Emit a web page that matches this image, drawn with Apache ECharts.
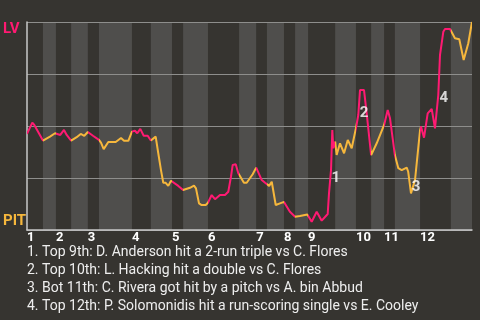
<!DOCTYPE html>
<html><head><meta charset="utf-8">
<script src="https://cdn.jsdelivr.net/npm/echarts@6/dist/echarts.min.js"></script>
<style>html,body{margin:0;padding:0;background:#363430}#c{width:480px;height:320px}</style>
</head><body><div id="c"></div>
<script>
const PINK = '#ff1a72', ORANGE = '#f6b73c';
const halfInningStarts = [0,4.3,7.8,11.9,16.4,19.4,28.3,33.4,39.1,42.1,48.8,57.2,61.8,64.7,69.3,72.3,75.8,83.1,88.7,92.8,96.3,99.2,106,114.3,120];
const inningLabels = ['1','2','3','4','5','6','7','8','9','10','11','12'];
const playIndex = [0,1.43,1.97,4.3,6.2,7.55,7.8,8.98,9.98,10.7,11.9,13.4,14.48,15.45,16.4,17.88,19.4,19.95,20.68,21.92,23.92,25.35,26.16,27.32,28.3,29.1,29.74,30.55,31.47,32.55,33.4,34.7,35.4,36.13,36.75,37.4,38.1,38.83,39.1,40.8,42.1,43.95,45.03,45.57,46.38,47.1,48.2,48.8,49.8,50.7,52.04,53.39,54.28,55.0,55.47,56.28,56.98,57.2,58.5,59.24,60.86,61.8,63.3,64.2,64.7,65.3,66.0,67.07,68.22,69.3,70.9,72.3,73.6,75.6,75.8,76.77,78.12,79.47,81.09,81.44,81.98,82.33,82.6,83.1,83.5,84.4,85.5,86.5,87.56,88.7,89.34,89.8,90.88,91.6,92.8,94.3,96.3,97.27,97.89,99.2,100.13,101.04,102.4,102.8,103.55,103.9,104.63,106,106.25,107.06,108.05,109.13,110.02,110.48,110.91,111.37,112.26,112.72,114.07,114.3,115.4,116.57,117.75,119.0,120];
const lvWinProb = [0.462,0.516,0.505,0.430,0.449,0.465,0.466,0.457,0.481,0.457,0.430,0.446,0.462,0.453,0.471,0.452,0.433,0.420,0.389,0.423,0.423,0.442,0.429,0.429,0.473,0.477,0.465,0.486,0.453,0.453,0.430,0.449,0.369,0.288,0.227,0.227,0.212,0.237,0.237,0.212,0.192,0.203,0.213,0.200,0.128,0.120,0.120,0.131,0.168,0.148,0.168,0.168,0.184,0.256,0.313,0.316,0.273,0.269,0.227,0.227,0.268,0.300,0.240,0.227,0.218,0.212,0.232,0.120,0.128,0.135,0.088,0.064,0.067,0.075,0.075,0.040,0.088,0.045,0.077,0.176,0.288,0.481,0.393,0.425,0.361,0.417,0.369,0.433,0.393,0.489,0.553,0.673,0.673,0.561,0.36,0.417,0.505,0.577,0.537,0.36,0.297,0.288,0.300,0.280,0.176,0.168,0.240,0.481,0.497,0.444,0.561,0.582,0.489,0.481,0.649,0.841,0.953,0.966,0.966,0.964,0.922,0.917,0.817,0.898,1.0];
const eventPlay = [83.3,90.9,104.9,112.4];
const eventProb = [0.25,0.56,0.204,0.632];
const eventLabels = ['1','2','3','4'];
const eventNotes = [
  '1. Top 9th: D. Anderson hit a 2-run triple vs C. Flores',
  '2. Top 10th: L. Hacking hit a double vs C. Flores',
  '3. Bot 11th: C. Rivera got hit by a pitch vs A. bin Abbud',
  '4. Top 12th: P. Solomonidis hit a run-scoring single vs E. Cooley'
];

const inningStarts = halfInningStarts.filter((v,i)=>i%2===0 && i<halfInningStarts.length-1);
const bands = [];
const pieces = [];
for (let i=0;i<halfInningStarts.length-1;i++){
  if (i%2===1) bands.push([{xAxis:halfInningStarts[i]},{xAxis:halfInningStarts[i+1]}]);
  const p = {gte:halfInningStarts[i], color: i%2===0 ? PINK : ORANGE};
  if (i<halfInningStarts.length-2) p.lt = halfInningStarts[i+1]; else p.lte = halfInningStarts[i+1];
  pieces.push(p);
}
const FONT = 'Roboto';
const chart = echarts.init(document.getElementById('c'), null, {renderer:'canvas'});
chart.setOption({
  backgroundColor:'#363430',
  animation:false,
  title:{text:eventNotes.join('\n'), left:27, top:244, padding:0,
    textStyle:{color:'#eeeeee', fontSize:14, fontWeight:'normal', fontFamily:FONT, lineHeight:17.8}},
  grid:{left:27, right:8, top:22, bottom:90},
  xAxis:{type:'value', min:0, max:120, z:3,
    axisLine:{show:true, lineStyle:{color:'#c8c8c8', width:1.5}},
    axisTick:{show:false}, splitLine:{show:false},
    axisLabel:{customValues:inningStarts, align:'left', margin:1, color:'#ffffff', fontWeight:'bold', fontSize:13, fontFamily:FONT,
      formatter:(v)=>{const k=inningStarts.indexOf(v); return k>=0?inningLabels[k]:'';}}},
  yAxis:[
    {type:'value', min:0, max:1, interval:0.25, z:3,
      axisLine:{show:true, lineStyle:{color:'#c8c8c8', width:1.5}}, axisTick:{show:false},
      splitLine:{show:true, lineStyle:{color:'#8e8e8c', width:1}},
      axisLabel:{align:'left', verticalAlign:'top', margin:24, color:PINK, fontWeight:'bold', fontSize:15, fontFamily:FONT, lineHeight:14,
        formatter:(v)=>v===1?'LV':''}},
    {type:'value', min:0, max:1, interval:0.25, position:'left', z:3,
      axisLine:{show:false}, axisTick:{show:false}, splitLine:{show:false},
      axisLabel:{align:'left', verticalAlign:'bottom', margin:24, color:ORANGE, fontWeight:'bold', fontSize:15, fontFamily:FONT, lineHeight:15, padding:[0,0,1,0],
        formatter:(v)=>v===0?'PIT':''}}
  ],
  visualMap:{type:'piecewise', show:false, dimension:0, seriesIndex:1, pieces:pieces},
  series:[
    {type:'line', z:1, data:[[0,0]], symbol:'none', lineStyle:{opacity:0}, silent:true,
      markArea:{silent:true, itemStyle:{color:'#4f4e4c'}, data:bands}},
    {type:'line', z:5, data:playIndex.map((x,i)=>[x,lvWinProb[i]]), symbol:'none', smooth:false,
      lineStyle:{width:2}},
    {type:'scatter', z:6, symbolSize:1, itemStyle:{color:'rgba(0,0,0,0)'},
      data:eventPlay.map((x,i)=>({value:[x,eventProb[i]], name:eventLabels[i]})),
      label:{show:true, position:'inside', formatter:'{b}', color:'#ffffff', fontWeight:'bold', fontSize:15, fontFamily:FONT}}
  ]
});
</script></body></html>
